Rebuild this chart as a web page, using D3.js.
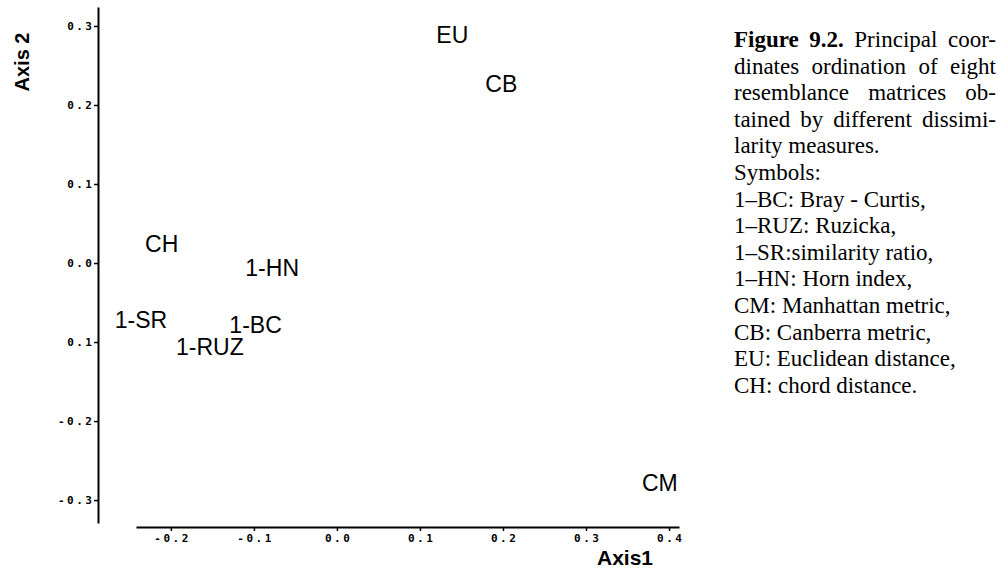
<!DOCTYPE html>
<html>
<head>
<meta charset="utf-8">
<script src="https://cdn.jsdelivr.net/npm/d3@7"></script>
<style>
  body { margin: 0; background: #fff; }
  svg { display: block; }
</style>
</head>
<body>
<svg id="chart" width="998" height="569"></svg>
<script>
// Principal coordinates scores of the eight resemblance matrices
const labels = ["EU", "CB", "CH", "1-HN", "1-SR", "1-BC", "1-RUZ", "CM"];
const axis1 = [0.139, 0.198, -0.211, -0.078, -0.236, -0.098, -0.153, 0.389];
const axis2 = [0.289, 0.227, 0.025, -0.006, -0.072, -0.078, -0.106, -0.278];

// Tick values and the labels printed beside them
const xTicks = [-0.2, -0.1, 0.0, 0.1, 0.2, 0.3, 0.4];
const xTickLabels = ["-0.2", "-0.1", "0.0", "0.1", "0.2", "0.3", "0.4"];
const yTicks = [0.3, 0.2, 0.1, 0.0, -0.1, -0.2, -0.3];
const yTickLabels = ["0.3", "0.2", "0.1", "0.0", "0.1", "-0.2", "-0.3"];

// Figure caption, one entry per printed line
const captionBold = ["Figure", "9.2."];
const captionLines = [
  "Figure 9.2. Principal coor-",
  "dinates ordination of eight",
  "resemblance matrices ob-",
  "tained by different dissimi-",
  "larity measures.",
  "Symbols:",
  "1\u2013BC: Bray - Curtis,",
  "1\u2013RUZ: Ruzicka,",
  "1\u2013SR:similarity ratio,",
  "1\u2013HN: Horn index,",
  "CM: Manhattan metric,",
  "CB: Canberra metric,",
  "EU: Euclidean distance,",
  "CH: chord distance."
];
const justifiedLines = 4;

const points = labels.map((name, i) => ({ name, a1: axis1[i], a2: axis2[i] }));

const svg = d3.select("#chart");

const x = d3.scaleLinear().domain([-0.242, 0.412]).range([136, 679]);
const y = d3.scaleLinear().domain([-0.329, 0.324]).range([523, 7]);

const tickFont = "'DejaVu Sans Mono', 'Liberation Mono', monospace";

// Horizontal axis
const gx = svg.append("g")
  .attr("transform", "translate(0,527)")
  .call(d3.axisBottom(x)
    .tickValues(xTicks)
    .tickFormat((d, i) => xTickLabels[i])
    .tickSizeInner(4)
    .tickSizeOuter(0)
    .tickPadding(3));

// Vertical axis
const gy = svg.append("g")
  .attr("transform", "translate(98,0)")
  .call(d3.axisLeft(y)
    .tickValues(yTicks)
    .tickFormat((d, i) => yTickLabels[i])
    .tickSizeInner(4)
    .tickSizeOuter(0)
    .tickPadding(2));

[gx, gy].forEach(g => {
  g.select(".domain").attr("stroke", "#000").attr("stroke-width", 2);
  g.selectAll(".tick line").attr("stroke", "#000").attr("stroke-width", 1.5);
  g.selectAll(".tick text")
    .attr("fill", "#000")
    .style("font-family", tickFont)
    .style("font-weight", "bold")
    .style("font-size", "11px")
    .style("letter-spacing", "2.5px");
});
gx.selectAll(".tick text").attr("dx", "1.2px");
gy.selectAll(".tick text").attr("dx", "2.5px");

// Axis titles
svg.append("text")
  .attr("x", 597)
  .attr("y", 565)
  .style("font-family", "'Liberation Sans', Arial, sans-serif")
  .style("font-weight", "bold")
  .style("font-size", "21px")
  .attr("fill", "#000")
  .text("Axis1");

svg.append("text")
  .attr("transform", "translate(29,62) rotate(-90)")
  .attr("text-anchor", "middle")
  .style("font-family", "'Liberation Sans', Arial, sans-serif")
  .style("font-weight", "bold")
  .style("font-size", "20px")
  .attr("fill", "#000")
  .text("Axis 2");

// Point labels centred on their ordination scores
svg.append("g")
  .selectAll("text")
  .data(points)
  .join("text")
  .attr("x", d => x(d.a1))
  .attr("y", d => y(d.a2))
  .attr("dy", "0.36em")
  .attr("text-anchor", "middle")
  .style("font-family", "'Liberation Sans', Arial, sans-serif")
  .style("font-size", "23px")
  .attr("fill", "#000")
  .text(d => d.name);

// Caption block, first lines justified word by word
const capLeft = 734, capRight = 996, capTop = 47, capLead = 26.6;
const capFont = "'Liberation Serif', 'Times New Roman', serif";
const cap = svg.append("g")
  .style("font-family", capFont)
  .style("font-size", "23px")
  .attr("fill", "#000");

captionLines.forEach((line, li) => {
  const words = line.split(" ");
  const yy = capTop + li * capLead;
  const nodes = words.map((w, wi) => {
    const bold = li === 0 && wi < captionBold.length && captionBold[wi] === w;
    return cap.append("text")
      .attr("y", yy)
      .style("font-weight", bold ? "bold" : "normal")
      .text(w);
  });
  const widths = nodes.map(n => n.node().getComputedTextLength());
  const total = d3.sum(widths);
  const space = li < justifiedLines && words.length > 1
    ? (capRight - capLeft - total) / (words.length - 1)
    : 23 * 0.25;
  let cx = capLeft;
  nodes.forEach((n, i) => {
    n.attr("x", cx);
    cx += widths[i] + space;
  });
});
</script>
</body>
</html>
